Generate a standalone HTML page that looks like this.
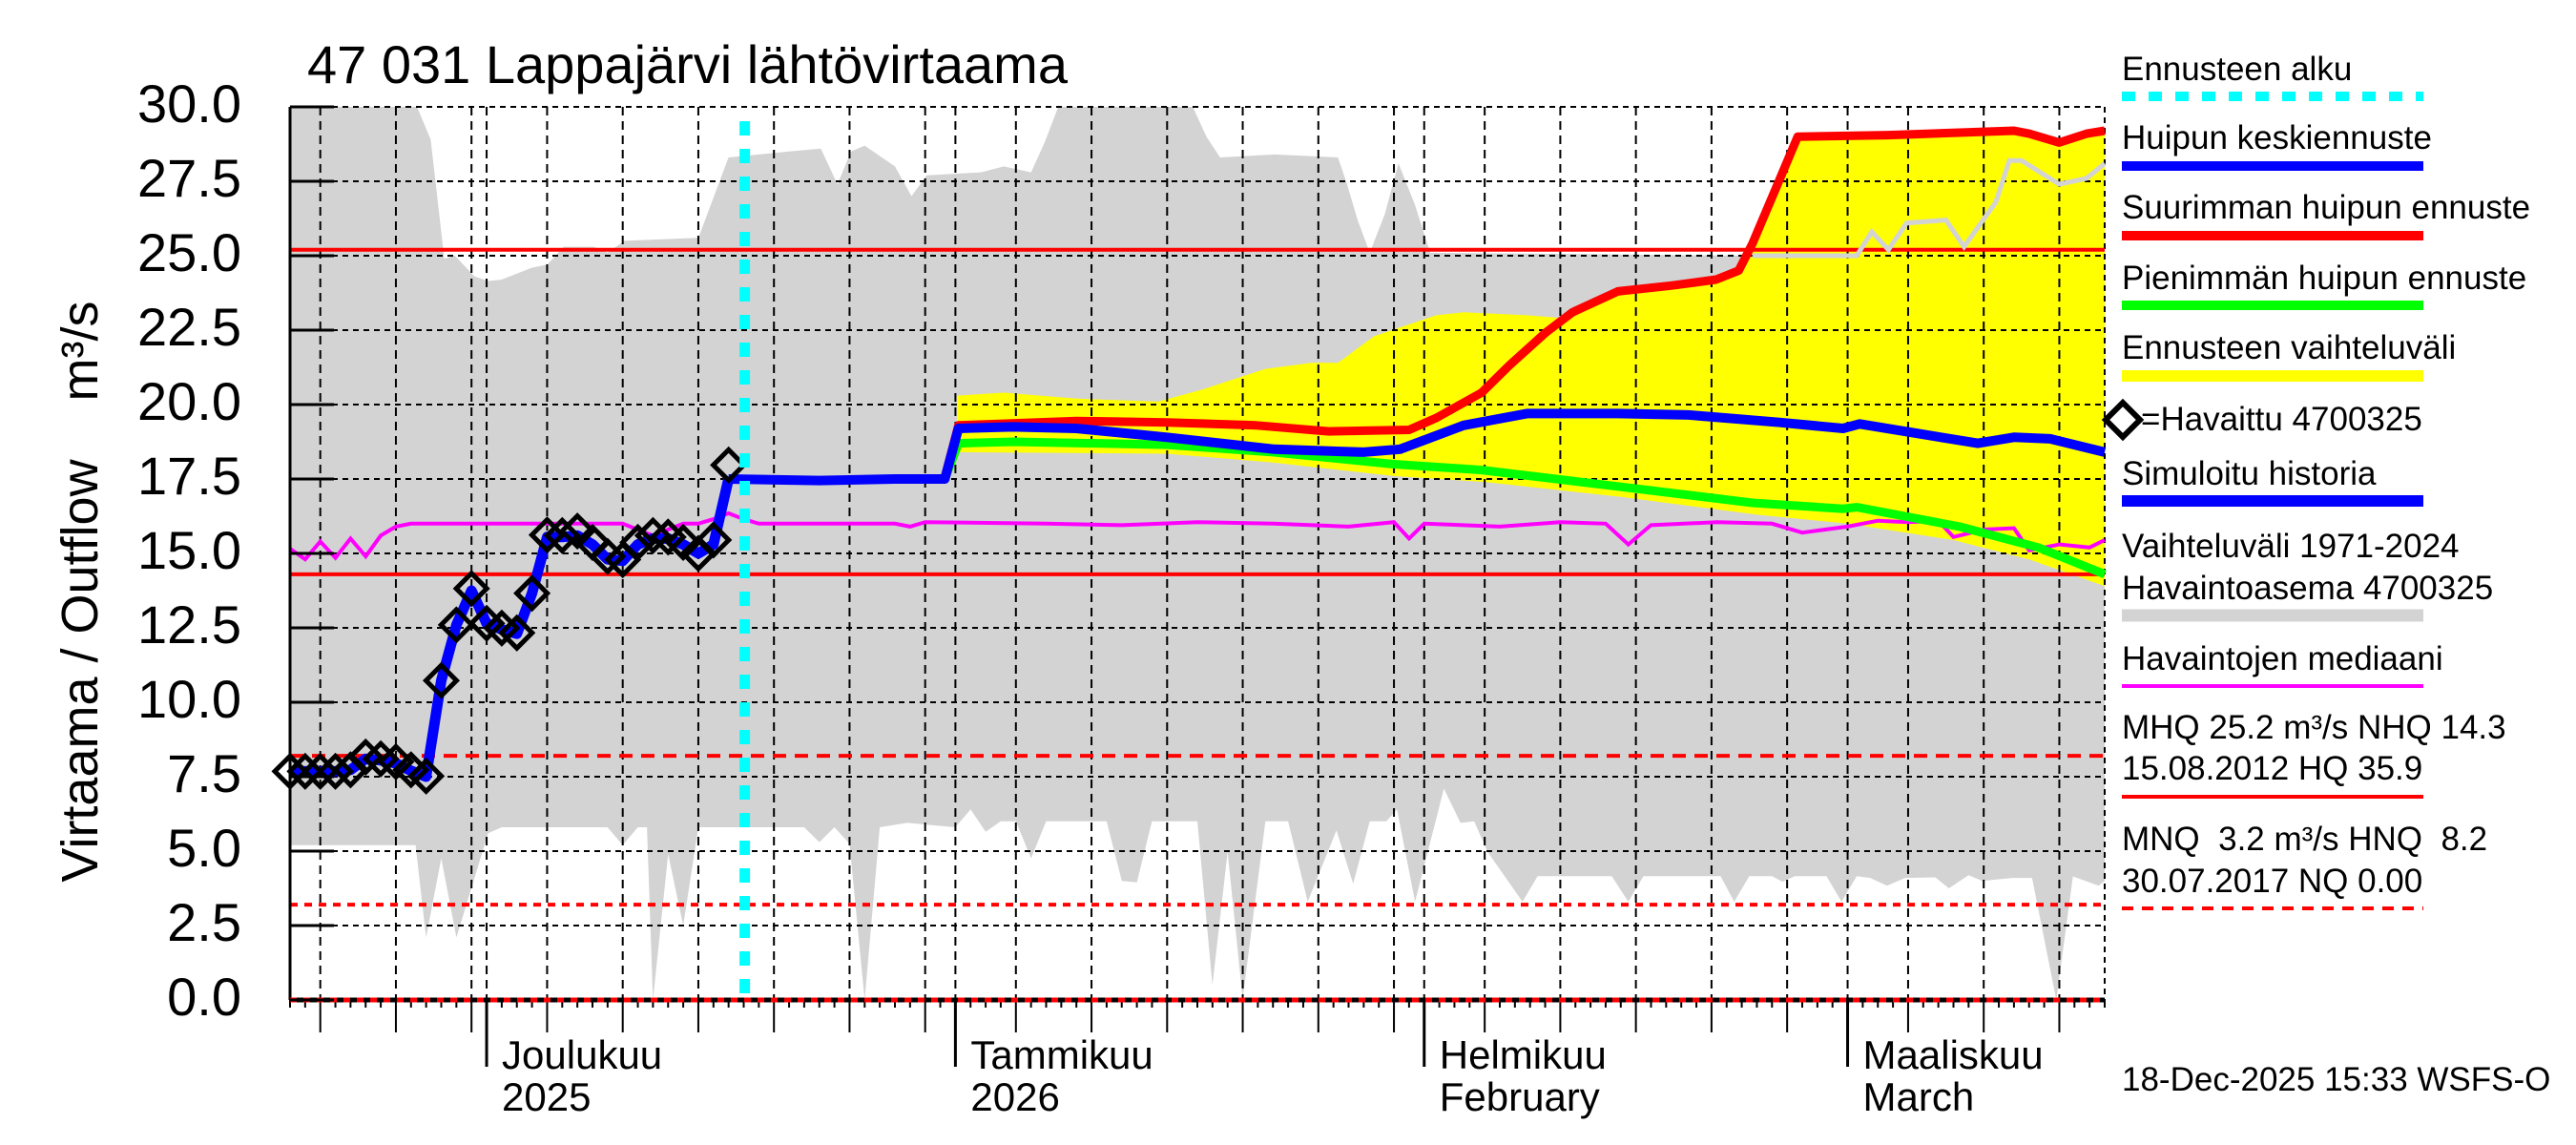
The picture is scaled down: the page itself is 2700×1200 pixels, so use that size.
<!DOCTYPE html>
<html><head><meta charset="utf-8"><style>
html,body{margin:0;padding:0;background:#fff}
svg{display:block}
text{font-family:"Liberation Sans",sans-serif;fill:#000}
</style></head><body>
<svg id="chart" width="2700" height="1200" viewBox="0 0 2700 1200" xmlns="http://www.w3.org/2000/svg">
<g id="plot"></g>
<text x="322" y="87" font-size="56">47 031 Lappajärvi lähtövirtaama</text>
<text transform="translate(102,703) rotate(-90)" text-anchor="middle" font-size="54">Virtaama / Outflow</text>
<text transform="translate(102,368) rotate(-90)" text-anchor="middle" font-size="54">m³/s</text>
<g id="legend" font-size="35">
<text x="2224" y="84">Ennusteen alku</text>
<line x1="2224" y1="101" x2="2540" y2="101" stroke="#00ffff" stroke-width="10" stroke-dasharray="14,14"/>
<text x="2224" y="156">Huipun keskiennuste</text>
<line x1="2224" y1="174" x2="2540" y2="174" stroke="#0000ff" stroke-width="10"/>
<text x="2224" y="229">Suurimman huipun ennuste</text>
<line x1="2224" y1="247" x2="2540" y2="247" stroke="#ff0000" stroke-width="10"/>
<text x="2224" y="303">Pienimmän huipun ennuste</text>
<line x1="2224" y1="320" x2="2540" y2="320" stroke="#00ff00" stroke-width="10"/>
<text x="2224" y="376">Ennusteen vaihteluväli</text>
<line x1="2224" y1="394" x2="2540" y2="394" stroke="#ffff00" stroke-width="12"/>
<polygon points="2207,440 2225,422 2243,440 2225,458" fill="none" stroke="#000" stroke-width="6"/>
<text x="2244" y="451">=Havaittu 4700325</text>
<text x="2224" y="508">Simuloitu historia</text>
<line x1="2224" y1="525" x2="2540" y2="525" stroke="#0000ff" stroke-width="12"/>
<text x="2224" y="584">Vaihteluväli 1971-2024</text>
<text x="2224" y="628">Havaintoasema 4700325</text>
<line x1="2224" y1="645" x2="2540" y2="645" stroke="#d3d3d3" stroke-width="13"/>
<text x="2224" y="702">Havaintojen mediaani</text>
<line x1="2224" y1="719" x2="2540" y2="719" stroke="#ff00ff" stroke-width="4"/>
<text x="2224" y="774">MHQ 25.2 m³/s NHQ 14.3</text>
<text x="2224" y="817">15.08.2012 HQ 35.9</text>
<line x1="2224" y1="835" x2="2540" y2="835" stroke="#ff0000" stroke-width="4"/>
<text x="2224" y="891" xml:space="preserve">MNQ  3.2 m³/s HNQ  8.2</text>
<text x="2224" y="935">30.07.2017 NQ 0.00</text>
<line x1="2224" y1="952" x2="2540" y2="952" stroke="#ff0000" stroke-width="4" stroke-dasharray="12,9"/>
</g>
<text x="2224" y="1143" font-size="35">18-Dec-2025 15:33 WSFS-O</text>
</svg>
<script>
// Day index 0 = 18 Nov 2025
const histUpperDays=[0,8.4,9.3,10.2,10.9,12.2,13.1,14,16,17,18.1,20.1,21,22.1,27,29,33,35.1,36.2,37.1,38,40,41.1,42.1,45.7,47.2,49,49.9,50.8,59.7,60.6,61.5,65.1,69.3,69.9,70.6,71.4,72.4,73.3,74.4,75.4,96.7,103.6,104.6,105.7,106.9,109.5,110.7,112.8,113.7,114.5,117,118.8,120];
const histUpperVals=[30,30,28.9,24.9,25.0,24.3,24.15,24.2,24.6,24.7,25.3,25.3,25.1,25.5,25.6,28.3,28.5,28.6,27.4,28.5,28.7,28.0,27.0,27.7,27.8,28.0,27.8,28.8,30,30,29.0,28.3,28.4,28.3,27.4,26.2,25.1,26.4,28.1,26.7,25.1,25.0,25.0,25.8,25.2,26.1,26.2,25.3,26.8,28.2,28.2,27.4,27.6,28.1];
const histLowerDays=[0,8.3,9,10,11,13.1,14,21,22,23,23.6,24,25,26,27,34,35,36,37,38,39,40.8,44,45,46,47,48,49,50,54,55,56,57,60,61,62,63,64.5,66,67.3,69.2,70.3,71.4,72.5,73.2,74.4,76.3,77.4,78.3,79.2,81.5,82.5,87.4,88.5,89.5,94.6,95.5,96.5,98,98.7,99.5,101.6,102.6,103.6,104.5,105.6,106.8,108.8,109.7,111,111.9,113.9,115.2,116.8,117.9,119.6,120];
const histLowerVals=[5.2,5.2,2.1,4.76,2.1,5.6,5.8,5.8,5.2,5.8,5.8,0,4.9,2.5,5.8,5.8,5.3,5.8,5.25,0,5.8,5.95,5.8,6.4,5.65,6.0,6.0,4.76,6.0,6.0,4.0,3.95,6.0,6.0,0.5,4.97,0.04,6.0,6.0,3.3,5.7,3.9,6.0,6.0,6.4,3.3,7.1,5.95,6.0,4.97,3.3,4.16,4.16,3.3,4.16,4.16,3.3,4.16,4.16,3.97,4.16,4.16,3.3,4.16,4.1,3.84,4.1,4.12,3.75,4.19,4.0,4.1,4.1,0,4.15,3.84,4.0];
const fcUpperDays=[44.1,47.2,52,57.4,60.3,64.5,67.5,69.3,71.7,75.8,77.6,81.8,84.2,84.8,87.8,91.4,94.3,95.8,96.7,98.2,99.7,105.7,114,115,117,118.8,120];
const fcUpperVals=[20.3,20.4,20.2,20.1,20.5,21.2,21.4,21.4,22.3,23.0,23.1,23.0,22.9,23.1,23.8,24.0,24.2,24.5,25.4,27.2,29.0,29.05,29.2,29.1,28.8,29.1,29.2];
const fcLowerDays=[44.1,58,65,73,79,88,97,103,110,115,120];
const fcLowerVals=[18.4,18.35,18.05,17.6,17.4,16.9,16.3,16.0,15.45,14.8,13.9];
const maxDays=[43.3,44.2,52,58,63.9,68.7,74,75.8,78.8,80.6,83,84.8,87.8,91.4,94.3,95.8,96.7,98.2,99.7,105.7,114,115,117,118.8,120];
const maxVals=[17.55,19.3,19.45,19.4,19.3,19.1,19.15,19.55,20.4,21.3,22.4,23.1,23.8,24.0,24.2,24.5,25.4,27.2,29.0,29.05,29.2,29.1,28.8,29.1,29.2];
const minDays=[43.3,44.2,47.8,58,65,72.9,78.8,87.8,96.7,102.7,103.6,110.4,115.6,120];
const minVals=[17.5,18.7,18.75,18.65,18.4,18.0,17.8,17.25,16.7,16.5,16.55,15.9,15.2,14.3];
const meanDays=[29,35,40,43.3,44.2,47.8,52,58,65.1,71,73.4,77.6,81.8,87.8,92.5,98.5,102.7,103.8,111.6,114,116.4,120];
const meanVals=[17.5,17.45,17.5,17.5,19.2,19.25,19.2,18.9,18.5,18.4,18.5,19.3,19.7,19.7,19.65,19.4,19.2,19.35,18.7,18.9,18.85,18.4];
const simVals=[7.68,7.68,7.68,7.68,7.73,8.1,8.05,7.95,7.7,7.5,10.73,12.6,13.75,12.65,12.45,12.3,13.66,15.55,15.55,15.6,15.3,14.8,14.75,15.3,15.5,15.5,15.3,15.0,15.3,17.5];
const obsVals=[7.68,7.68,7.68,7.68,7.73,8.16,8.1,8.0,7.73,7.52,10.73,12.6,13.82,12.65,12.49,12.33,13.66,15.62,15.6,15.75,15.37,14.9,14.79,15.37,15.6,15.55,15.37,15.0,15.45,17.97];
const medianDays=[0,1,2,3,4,5,6,7,8,22,24,26,27,28,29,30,31,40,41,42,50,55,60,65,70,73,74,75,80,84,87,88.5,90,94.4,98,100,103,105,107,109,110,112,114,115,117,119,120];
const medianVals=[15.16,14.8,15.4,14.85,15.5,14.9,15.6,15.9,16.0,16.0,15.6,16.0,16.0,16.15,16.35,16.15,16.0,16.0,15.9,16.05,16.0,15.95,16.05,16.0,15.9,16.05,15.5,16.0,15.9,16.05,16.0,15.3,15.95,16.05,16.0,15.7,15.9,16.1,16.05,16.1,15.55,15.8,15.85,15.1,15.3,15.2,15.45];
const refNames=['mhq','nhq','hnq','mnq'];
const refVals=[25.2,14.3,8.2,3.2];
const yTicks=[0,2.5,5,7.5,10,12.5,15,17.5,20,22.5,25,27.5,30];
const monthLabels=[['Joulukuu','2025'],['Tammikuu','2026'],['Helmikuu','February'],['Maaliskuu','March']];
const forecastStartDay=30.07;
const totalDays=120;

const NS='http://www.w3.org/2000/svg';
const plot=document.getElementById('plot');
const X0=304, PXD=15.85, Y0=1048, PXV=31.2;
function xs(d){return X0+d*PXD;}
function ys(v){return Y0-v*PXV;}
function mk(tag,attrs,parent){const e=document.createElementNS(NS,tag);for(const k in attrs)e.setAttribute(k,attrs[k]);(parent||plot).appendChild(e);return e;}
function pts(days,vals){return days.map((d,i)=>xs(d).toFixed(1)+','+ys(vals[i]).toFixed(1)).join(' ');}
function band(ud,uv,ld,lv){return pts(ud,uv)+' '+pts(ld.slice().reverse(),lv.slice().reverse());}
const XR=xs(totalDays);

let e;
e=mk('polygon',{points:band(histUpperDays,histUpperVals,histLowerDays,histLowerVals),fill:'#d3d3d3'});


e=mk('polygon',{points:band(fcUpperDays,fcUpperVals,fcLowerDays,fcLowerVals),fill:'#ffff00'});



yTicks.forEach(v=>{
  e=mk('line',{x1:X0,x2:XR,y1:ys(v),y2:ys(v),stroke:'#000','stroke-width':2,'stroke-dasharray':'6,5'});
  
  
});
const start=new Date(2025,10,18);
const monthDays=[];
for(let d=0;d<=totalDays;d++){
  const dt=new Date(start.getFullYear(),start.getMonth(),start.getDate()+d);
  const dom=dt.getDate();
  let len=8;
  if(dom===1){monthDays.push(d);len=70;}
  else if(dom%5===0){len=34;}
  if(dom===1||dom%5===0){
    e=mk('line',{x1:xs(d),x2:xs(d),y1:ys(30),y2:Y0,stroke:'#000','stroke-width':2,'stroke-dasharray':'9,6'});
    
    
  }
  e=mk('line',{x1:xs(d),x2:xs(d),y1:Y0,y2:Y0+len,stroke:'#000','stroke-width':dom===1?3:2});
  
  
}
e=mk('line',{x1:XR,x2:XR,y1:ys(30),y2:Y0,stroke:'#000','stroke-width':2,'stroke-dasharray':'6,5'});



refVals.forEach((v,i)=>{
  const dash=i===2?'14,9':(i===3?'8,7':'none');
  e=mk('line',{x1:X0,x2:XR,y1:ys(v),y2:ys(v),stroke:'#ff0000','stroke-width':4,'stroke-dasharray':dash});
  
  
});

const ovD=[],ovV=[];
histUpperDays.forEach((d,i)=>{if(d>=96.7){ovD.push(d);ovV.push(histUpperVals[i]);}});
e=mk('polyline',{points:pts(ovD,ovV),fill:'none',stroke:'#d3d3d3','stroke-width':5});



e=mk('polyline',{points:pts(medianDays,medianVals),fill:'none',stroke:'#ff00ff','stroke-width':4});


e=mk('polyline',{points:pts(minDays,minVals),fill:'none',stroke:'#00ff00','stroke-width':9,'stroke-linejoin':'round'});


e=mk('polyline',{points:pts(maxDays,maxVals),fill:'none',stroke:'#ff0000','stroke-width':9,'stroke-linejoin':'round'});


e=mk('polyline',{points:pts(meanDays,meanVals),fill:'none',stroke:'#0000ff','stroke-width':10,'stroke-linejoin':'round'});


const simDays=simVals.map((v,i)=>i);
e=mk('polyline',{points:pts(simDays,simVals),fill:'none',stroke:'#0000ff','stroke-width':11,'stroke-linejoin':'round'});



obsVals.forEach((v,i)=>{
  const cx=xs(i),cy=ys(v),r=16;
  e=mk('polygon',{points:`${cx-r},${cy} ${cx},${cy-r} ${cx+r},${cy} ${cx},${cy+r}`,fill:'none',stroke:'#000','stroke-width':5});
  
  
});

e=mk('line',{x1:xs(forecastStartDay),x2:xs(forecastStartDay),y1:127,y2:Y0,stroke:'#00ffff','stroke-width':11,'stroke-dasharray':'15,14'});



e=mk('line',{x1:X0,x2:X0,y1:ys(30),y2:Y0,stroke:'#000','stroke-width':3});


e=mk('line',{x1:X0,x2:XR,y1:Y0,y2:Y0,stroke:'#000','stroke-width':5});


e=mk('line',{x1:X0,x2:XR,y1:Y0,y2:Y0,stroke:'#ff0000','stroke-width':5,'stroke-dasharray':'7,7'});


yTicks.forEach(v=>{
  e=mk('line',{x1:X0,x2:X0+46,y1:ys(v),y2:ys(v),stroke:'#000','stroke-width':3});
  
  
  e=mk('text',{x:253,y:ys(v)+16,'font-size':56,'text-anchor':'end'});
  e.textContent=v.toFixed(1);
  
  
});
monthDays.forEach((d,i)=>{
  if(!monthLabels[i])return;
  e=mk('text',{x:xs(d)+16,y:1120,'font-size':42});
  e.textContent=monthLabels[i][0];
  
  
  e=mk('text',{x:xs(d)+16,y:1164,'font-size':42});
  e.textContent=monthLabels[i][1];
  
  
});
</script>
</body></html>
